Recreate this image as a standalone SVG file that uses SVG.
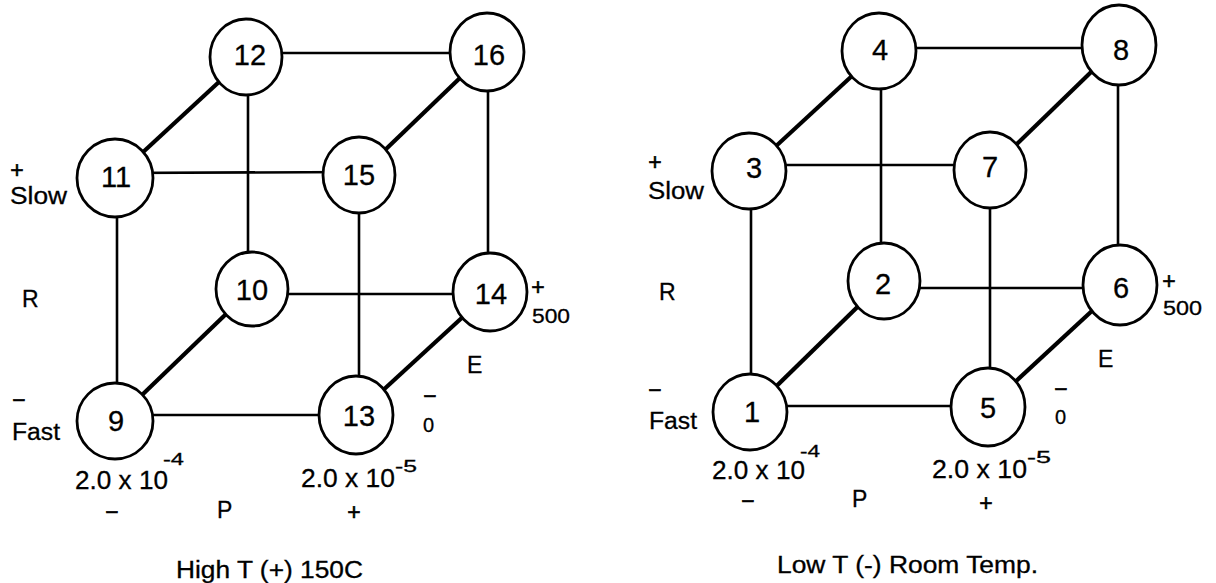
<svg xmlns="http://www.w3.org/2000/svg" width="1216" height="583" viewBox="0 0 1216 583">
<style>
  .bg { fill: #ffffff; }
  .edge { stroke: #000; stroke-width: 2.6; fill: none; }
  .diag { stroke: #000; stroke-width: 4.2; fill: none; }
  .node ellipse { fill: #ffffff; stroke: #000; stroke-width: 2.8; }
  .num { font-family: "Liberation Sans", Arial, sans-serif; font-size: 29px; text-anchor: middle; fill: #000; stroke: #000; stroke-width: 0.3; }
  .lbl { font-family: "Liberation Sans", Arial, sans-serif; font-size: 23px; fill: #000; stroke: #000; stroke-width: 0.3; }
  .sym { font-family: "Liberation Sans", Arial, sans-serif; font-size: 23px; fill: #000; text-anchor: middle; stroke: #000; stroke-width: 0.6; }
  .val { font-family: "Liberation Sans", Arial, sans-serif; font-size: 26px; fill: #000; stroke: #000; stroke-width: 0.3; }
  .sup { font-family: "Liberation Sans", Arial, sans-serif; font-size: 17px; fill: #000; stroke: #000; stroke-width: 0.3; }
  .small { font-family: "Liberation Sans", Arial, sans-serif; font-size: 20px; fill: #000; stroke: #000; stroke-width: 0.3; }
</style>
<rect class="bg" x="0" y="0" width="1216" height="583"/>

<g id="connectors">
  <!-- left cube (High T) -->
  <line class="edge" x1="246" y1="53" x2="487" y2="53"/>
  <line class="edge" x1="248" y1="57" x2="248" y2="289"/>
  <line class="edge" x1="488" y1="52" x2="488" y2="292"/>
  <line class="edge" x1="115" y1="173" x2="359" y2="172"/>
  <line class="edge" x1="117" y1="178" x2="117" y2="421"/>
  <line class="edge" x1="359" y1="175" x2="359" y2="415"/>
  <line class="edge" x1="252" y1="294" x2="490" y2="294"/>
  <line class="edge" x1="115" y1="415" x2="356" y2="415"/>
  <line class="diag" x1="115" y1="178" x2="246" y2="57"/>
  <line class="diag" x1="359" y1="175" x2="487" y2="52"/>
  <line class="diag" x1="115" y1="421" x2="252" y2="289"/>
  <line class="diag" x1="356" y1="415" x2="490" y2="292"/>
  <!-- right cube (Low T) -->
  <line class="edge" x1="879" y1="48" x2="1119" y2="48"/>
  <line class="edge" x1="881" y1="51" x2="881" y2="281"/>
  <line class="edge" x1="1118" y1="45" x2="1118" y2="285"/>
  <line class="edge" x1="749" y1="165" x2="990" y2="165"/>
  <line class="edge" x1="751" y1="171" x2="751" y2="412"/>
  <line class="edge" x1="990" y1="170" x2="990" y2="407"/>
  <line class="edge" x1="884" y1="288" x2="1120" y2="288"/>
  <line class="edge" x1="750" y1="406" x2="988" y2="406"/>
  <line class="diag" x1="749" y1="171" x2="879" y2="51"/>
  <line class="diag" x1="990" y1="170" x2="1119" y2="45"/>
  <line class="diag" x1="750" y1="412" x2="884" y2="281"/>
  <line class="diag" x1="988" y1="407" x2="1120" y2="285"/>
</g>

<g id="node-12" class="node"><ellipse cx="246" cy="57" rx="36" ry="38"/><text class="num" x="250" y="65">12</text></g>
<g id="node-16" class="node"><ellipse cx="487" cy="52" rx="37" ry="39"/><text class="num" x="489" y="65">16</text></g>
<g id="node-11" class="node"><ellipse cx="115" cy="178" rx="38" ry="39"/><text class="num" x="116" y="187">11</text></g>
<g id="node-15" class="node"><ellipse cx="359" cy="175" rx="36" ry="38"/><text class="num" x="359" y="185">15</text></g>
<g id="node-10" class="node"><ellipse cx="252" cy="289" rx="36" ry="37"/><text class="num" x="252" y="300">10</text></g>
<g id="node-14" class="node"><ellipse cx="490" cy="292" rx="37" ry="39"/><text class="num" x="491" y="304">14</text></g>
<g id="node-9" class="node"><ellipse cx="115" cy="421" rx="38" ry="38"/><text class="num" x="116" y="431">9</text></g>
<g id="node-13" class="node"><ellipse cx="356" cy="415" rx="37" ry="39"/><text class="num" x="359" y="426">13</text></g>

<g id="node-4" class="node"><ellipse cx="879" cy="51" rx="37" ry="38"/><text class="num" x="880" y="60">4</text></g>
<g id="node-8" class="node"><ellipse cx="1119" cy="45" rx="37" ry="40"/><text class="num" x="1121" y="60">8</text></g>
<g id="node-3" class="node"><ellipse cx="749" cy="171" rx="37" ry="38"/><text class="num" x="754" y="178">3</text></g>
<g id="node-7" class="node"><ellipse cx="990" cy="170" rx="36" ry="38"/><text class="num" x="990" y="177">7</text></g>
<g id="node-2" class="node"><ellipse cx="884" cy="281" rx="36" ry="38"/><text class="num" x="883" y="294">2</text></g>
<g id="node-6" class="node"><ellipse cx="1120" cy="285" rx="37" ry="40"/><text class="num" x="1121" y="298">6</text></g>
<g id="node-1" class="node"><ellipse cx="750" cy="412" rx="37" ry="38"/><text class="num" x="752" y="422">1</text></g>
<g id="node-5" class="node"><ellipse cx="988" cy="407" rx="37" ry="39"/><text class="num" x="988" y="418">5</text></g>

<g id="labels-left">
  <text class="sym" x="17" y="178">+</text>
  <text class="lbl" x="10" y="204" textLength="57" lengthAdjust="spacingAndGlyphs">Slow</text>
  <text class="lbl" x="22" y="307">R</text>
  <text class="sym" x="19" y="408">−</text>
  <text class="lbl" x="12" y="440" textLength="48" lengthAdjust="spacingAndGlyphs">Fast</text>
  <text class="val" x="75" y="489" textLength="93" lengthAdjust="spacingAndGlyphs">2.0 x 10</text>
  <text class="sup" x="163" y="465" textLength="21" lengthAdjust="spacingAndGlyphs">-4</text>
  <text class="sym" x="112" y="520">−</text>
  <text class="lbl" x="217" y="518" font-size="24">P</text>
  <text class="sym" x="354" y="520">+</text>
  <text class="val" x="301" y="487" textLength="94" lengthAdjust="spacingAndGlyphs">2.0 x 10</text>
  <text class="sup" x="395" y="472" textLength="22" lengthAdjust="spacingAndGlyphs">-5</text>
  <text class="lbl" x="467" y="373">E</text>
  <text class="sym" x="430" y="404">−</text>
  <text class="small" x="423" y="432" font-size="21">0</text>
  <text class="sym" x="538" y="295" font-size="20">+</text>
  <text class="small" x="532" y="323" textLength="38" lengthAdjust="spacingAndGlyphs">500</text>
  <text class="lbl" x="176" y="578" textLength="187" lengthAdjust="spacingAndGlyphs">High T (+) 150C</text>
</g>

<g id="labels-right">
  <text class="sym" x="655" y="170">+</text>
  <text class="lbl" x="648" y="199" textLength="56" lengthAdjust="spacingAndGlyphs">Slow</text>
  <text class="lbl" x="659" y="300">R</text>
  <text class="sym" x="655" y="398">−</text>
  <text class="lbl" x="649" y="429" textLength="48" lengthAdjust="spacingAndGlyphs">Fast</text>
  <text class="val" x="712" y="479" textLength="93" lengthAdjust="spacingAndGlyphs">2.0 x 10</text>
  <text class="sup" x="800" y="457" textLength="20" lengthAdjust="spacingAndGlyphs">-4</text>
  <text class="sym" x="748" y="509">−</text>
  <text class="lbl" x="852" y="507" font-size="24">P</text>
  <text class="sym" x="986" y="511">+</text>
  <text class="val" x="932" y="478" textLength="95" lengthAdjust="spacingAndGlyphs">2.0 x 10</text>
  <text class="sup" x="1027" y="463" textLength="24" lengthAdjust="spacingAndGlyphs">-5</text>
  <text class="lbl" x="1098" y="367">E</text>
  <text class="sym" x="1061" y="397">−</text>
  <text class="small" x="1055" y="424" font-size="21">0</text>
  <text class="sym" x="1169" y="289" font-size="20">+</text>
  <text class="small" x="1163" y="315" textLength="39" lengthAdjust="spacingAndGlyphs">500</text>
  <text class="lbl" x="777" y="573" textLength="261" lengthAdjust="spacingAndGlyphs">Low T (-) Room Temp.</text>
</g>
</svg>
